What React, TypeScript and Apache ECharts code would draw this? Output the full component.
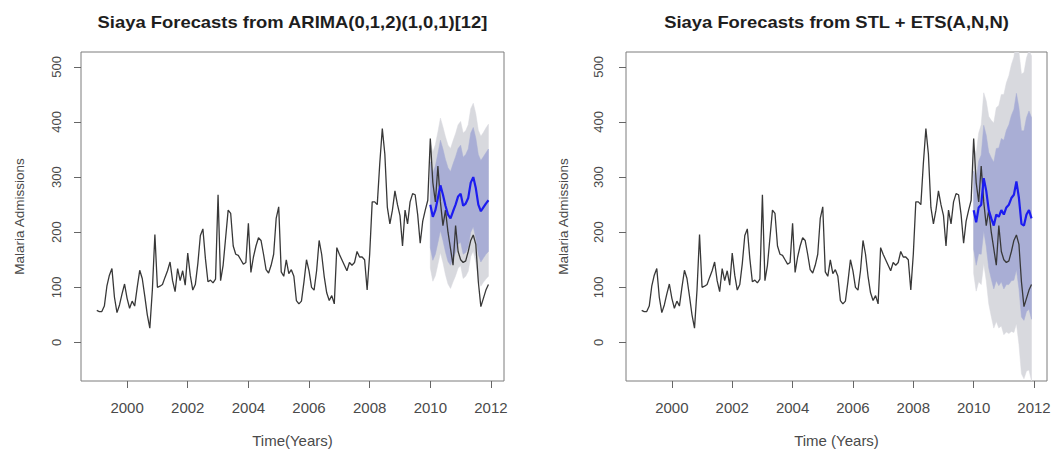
import React, { useEffect, useRef } from "react";
import * as echarts from "echarts";

// Monthly malaria admissions, Siaya, January 1999 – December 2011
const FIRST_YEAR = 1999;
const admissions1999 = [58, 56, 56, 66, 102, 122, 134, 82, 54, 68, 88, 106];
const admissions2000 = [80, 62, 75, 66, 100, 131, 116, 84, 50, 26, 95, 196];
const admissions2001 = [100, 102, 105, 118, 130, 146, 112, 92, 134, 112, 130, 104];
const admissions2002 = [162, 122, 95, 105, 143, 194, 206, 152, 110, 113, 108, 115];
const admissions2003 = [268, 112, 140, 190, 240, 234, 175, 160, 158, 150, 142, 145];
const admissions2004 = [216, 127, 155, 175, 190, 185, 160, 132, 126, 140, 160, 225];
const admissions2005 = [246, 128, 120, 150, 125, 132, 120, 76, 70, 75, 110, 150];
const admissions2006 = [130, 100, 95, 130, 185, 160, 120, 90, 76, 85, 70, 172];
const admissions2007 = [160, 150, 140, 130, 145, 140, 145, 165, 155, 155, 150, 95];
const admissions2008 = [160, 255, 255, 250, 325, 388, 342, 245, 215, 240, 275, 250];
const admissions2009 = [230, 175, 240, 215, 255, 270, 268, 232, 180, 220, 240, 258];
const admissions2010 = [370, 290, 255, 320, 255, 212, 240, 200, 170, 140, 212, 165];
const admissions2011 = [150, 145, 148, 165, 185, 195, 178, 110, 65, 80, 95, 105];

// Forecast horizon: January 2010 – December 2011
const FORECAST_START = 2010;

// ARIMA(0,1,2)(1,0,1)[12]
const arimaMean = [250, 228, 240, 262, 285, 268, 248, 232, 225, 238, 250, 265, 270, 248, 252, 262, 290, 300, 280, 250, 238, 245, 252, 258];
const arimaLo80 = [172, 149, 160, 181, 203, 185, 164, 147, 140, 152, 163, 178, 182, 160, 163, 173, 200, 210, 189, 159, 146, 153, 160, 165];
const arimaHi80 = [328, 307, 320, 343, 367, 351, 332, 317, 310, 324, 337, 352, 358, 336, 341, 351, 380, 390, 371, 341, 330, 337, 344, 351];
const arimaLo95 = [135, 111, 121, 142, 163, 145, 123, 106, 98, 110, 121, 135, 139, 116, 120, 129, 156, 166, 145, 115, 102, 109, 115, 120];
const arimaHi95 = [365, 345, 359, 382, 407, 391, 373, 358, 352, 366, 379, 395, 401, 380, 384, 395, 424, 434, 415, 385, 374, 381, 389, 396];

// STL + ETS(A,N,N)
const etsMean = [240, 218, 245, 250, 298, 275, 240, 225, 212, 232, 228, 240, 232, 245, 250, 262, 268, 292, 262, 215, 212, 232, 240, 225];
const etsLo80 = [169, 140, 161, 160, 202, 174, 135, 115, 97, 112, 103, 110, 97, 105, 105, 112, 113, 132, 98, 46, 40, 56, 60, 42];
const etsHi80 = [311, 296, 329, 340, 394, 376, 345, 335, 327, 352, 353, 370, 367, 385, 395, 412, 423, 452, 426, 384, 384, 408, 420, 408];
const etsLo95 = [125, 93, 110, 105, 143, 112, 70, 47, 26, 38, 26, 30, 14, 19, 16, 20, 18, 34, -3, -57, -66, -52, -50, -70];
const etsHi95 = [355, 343, 380, 395, 453, 438, 410, 403, 398, 426, 430, 450, 450, 471, 484, 504, 518, 550, 527, 487, 490, 516, 530, 520];

const yearTicks = [2000, 2002, 2004, 2006, 2008, 2010, 2012];
const valueTicks = [0, 100, 200, 300, 400, 500];

const admissions = [
  ...admissions1999, ...admissions2000, ...admissions2001, ...admissions2002,
  ...admissions2003, ...admissions2004, ...admissions2005, ...admissions2006,
  ...admissions2007, ...admissions2008, ...admissions2009, ...admissions2010,
  ...admissions2011,
];

const FONT = '"Liberation Sans", Arial, Helvetica, sans-serif';
const BAND95 = "#d8d9de";
const BAND80 = "#a9aed5";
const FORECAST_BLUE = "#1c1cf0";
const HISTORY = "#383838";

const histTime = (i: number) => FIRST_YEAR + i / 12;
const fcTime = (i: number) => FORECAST_START + i / 12;

type Panel = {
  title: string;
  xName: string;
  mean: number[];
  lo80: number[];
  hi80: number[];
  lo95: number[];
  hi95: number[];
  grid: { left: number; top: number; width: number; height: number };
  titleX: number;
  yLabelMargin: number;
  yNameGap: number;
};

const panels: Panel[] = [
  {
    title: "Siaya Forecasts from ARIMA(0,1,2)(1,0,1)[12]",
    xName: "Time(Years)",
    mean: arimaMean, lo80: arimaLo80, hi80: arimaHi80, lo95: arimaLo95, hi95: arimaHi95,
    grid: { left: 81, top: 52, width: 423, height: 333 },
    titleX: 292.5,
    yLabelMargin: 18,
    yNameGap: 55,
  },
  {
    title: "Siaya Forecasts from STL + ETS(A,N,N)",
    xName: "Time (Years)",
    mean: etsMean, lo80: etsLo80, hi80: etsHi80, lo95: etsLo95, hi95: etsHi95,
    grid: { left: 626, top: 52, width: 421, height: 334 },
    titleX: 836.5,
    yLabelMargin: 21,
    yNameGap: 56,
  },
];

// Prediction interval drawn as one filled polygon: upper bound left→right,
// then lower bound right→left, all mapped through the panel's axes.
function bandSeries(p: number, lo: number[], hi: number[], color: string, z: number) {
  return {
    type: "custom",
    xAxisIndex: p,
    yAxisIndex: p,
    silent: true,
    clip: true,
    z,
    data: lo.map((v, i) => [fcTime(i), v, hi[i]]),
    encode: { x: 0, y: [1, 2] },
    renderItem: (params: any, api: any) => {
      if (params.dataIndex !== 0) return null;
      const upper = hi.map((v, i) => api.coord([fcTime(i), v]));
      const lower = lo.map((v, i) => api.coord([fcTime(i), v])).reverse();
      return {
        type: "polygon",
        shape: { points: upper.concat(lower) },
        style: { fill: color, stroke: color, lineWidth: 0.5 },
      };
    },
  };
}

function buildOption() {
  const grid = panels.map((p) => ({
    ...p.grid,
    show: true,
    borderColor: "#7d7d7d",
    borderWidth: 1,
    backgroundColor: "transparent",
  }));

  const xAxis = panels.map((p, idx) => ({
    type: "value",
    gridIndex: idx,
    min: 1998.48,
    max: 2012.43,
    splitLine: { show: false },
    axisLine: { show: false, onZero: false },
    axisTick: { show: true, length: 7, customValues: yearTicks, lineStyle: { color: "#666" } },
    axisLabel: {
      customValues: yearTicks,
      formatter: (v: number) => String(Math.round(v)),
      margin: 19,
      fontSize: 15,
      fontFamily: FONT,
      color: "#4a4a4a",
    },
    name: p.xName,
    nameLocation: "middle",
    nameGap: 52,
    nameTextStyle: { fontSize: 15, fontFamily: FONT, color: "#4a4a4a" },
  }));

  const yAxis = panels.map((p, idx) => ({
    type: "value",
    gridIndex: idx,
    min: -70,
    max: 527,
    splitLine: { show: false },
    axisLine: { show: false, onZero: false },
    axisTick: { show: true, length: 7, customValues: valueTicks, lineStyle: { color: "#666" } },
    axisLabel: {
      customValues: valueTicks,
      rotate: 90,
      margin: p.yLabelMargin,
      fontSize: 13,
      fontFamily: FONT,
      color: "#4a4a4a",
    },
    name: "Malaria Admissions",
    nameLocation: "middle",
    nameRotate: 90,
    nameGap: p.yNameGap,
    nameTextStyle: { fontSize: 13.5, fontFamily: FONT, color: "#4a4a4a" },
  }));

  const series: any[] = [];
  panels.forEach((p, idx) => {
    series.push(bandSeries(idx, p.lo95, p.hi95, BAND95, 1));
    series.push(bandSeries(idx, p.lo80, p.hi80, BAND80, 2));
    series.push({
      type: "line",
      xAxisIndex: idx,
      yAxisIndex: idx,
      data: admissions.map((v, i) => [histTime(i), v]),
      symbol: "none",
      silent: true,
      lineStyle: { color: HISTORY, width: 1.3 },
      z: 3,
    });
    series.push({
      type: "line",
      xAxisIndex: idx,
      yAxisIndex: idx,
      data: p.mean.map((v, i) => [fcTime(i), v]),
      symbol: "none",
      silent: true,
      lineStyle: { color: FORECAST_BLUE, width: 2.2 },
      z: 4,
    });
  });

  const graphic = panels.map((p) => ({
    type: "text",
    x: p.titleX,
    y: 22,
    scaleX: 1.15,
    silent: true,
    style: {
      text: p.title,
      font: `bold 16px ${FONT}`,
      fill: "#1e1e1e",
      align: "center",
      verticalAlign: "middle",
      textAlign: "center",
      textVerticalAlign: "middle",
    },
  }));

  return {
    animation: false,
    backgroundColor: "#ffffff",
    grid,
    xAxis,
    yAxis,
    series,
    graphic,
  };
}

export default function App() {
  const ref = useRef<HTMLDivElement>(null);

  useEffect(() => {
    if (!ref.current) return;
    const chart = echarts.init(ref.current, undefined, { renderer: "svg" });
    chart.setOption(buildOption() as any);
    return () => chart.dispose();
  }, []);

  return (
    <div
      ref={ref}
      style={{ position: "absolute", left: 0, top: 0, width: 1058, height: 453, background: "#fff" }}
    />
  );
}
